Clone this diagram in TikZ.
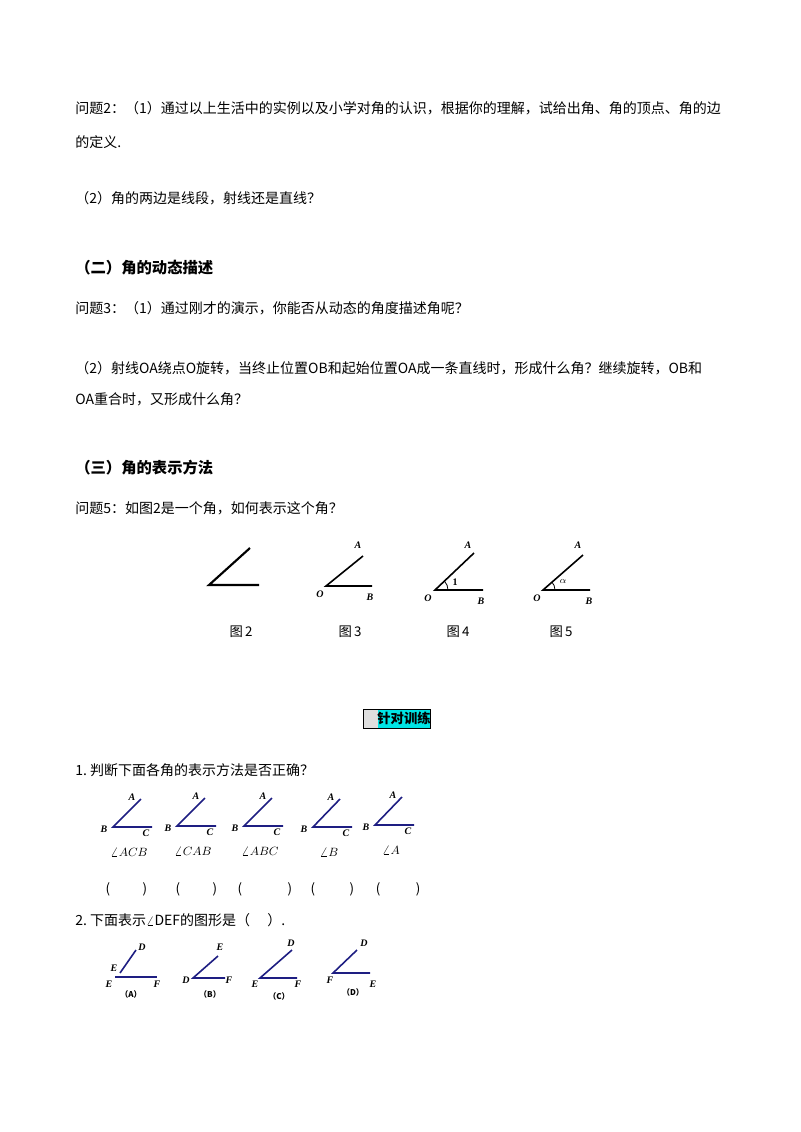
\documentclass[tikz,border=0pt]{standalone}
\usepackage{fontspec}
\setmainfont{Liberation Serif}
\newfontfamily\cjk{Noto Sans CJK SC}
\definecolor{navy}{RGB}{30,30,130}
\definecolor{cyanbox}{RGB}{0,230,230}
\begin{document}
\begin{tikzpicture}[x=0.75pt,y=-0.75pt,
  txt/.style={anchor=west,inner sep=0,font=\cjk\fontsize{10.5}{12}\selectfont},
  hd/.style={anchor=west,inner sep=0,font=\cjk\bfseries\fontsize{11.5}{13}\selectfont},
  lab/.style={inner sep=0,font=\bfseries\itshape\fontsize{7.5}{9}\selectfont},
  blu/.style={line width=1.2pt,draw=navy},
  capt/.style={inner sep=0,font=\cjk\fontsize{10}{12}\selectfont},
  optl/.style={inner sep=0,font=\cjk\bfseries\fontsize{6}{7}\selectfont}]
\useasboundingbox (0,0) rectangle (800,1132);
\node[txt] (t1) at (75,108) {问题2：（1）通过以上生活中的实例以及小学对角的认识，根据你的理解，试给出角、角的顶点、角的边};
\node[txt] (t2) at (75,142) {的定义.};
\node[txt] (t3) at (75,198) {（2）角的两边是线段，射线还是直线？};
\node[hd] (h2) at (75,268) {（二）角的动态描述};
\node[txt] (t4) at (75,308) {问题3：（1）通过刚才的演示，你能否从动态的角度描述角呢？};
\node[txt] (t5) at (75,368) {（2）射线\textit{OA}绕点\textit{O}旋转，当终止位置\textit{OB}和起始位置\textit{OA}成一条直线时，形成什么角？继续旋转，\textit{OB}和};
\node[txt] (t6) at (75,399) {\textit{OA}重合时，又形成什么角？};
\node[hd] (h3) at (75,468) {（三）角的表示方法};
\node[txt] (t7) at (75,508) {问题5：如图2是一个角，如何表示这个角？};
% fig 2
\coordinate (v2) at (209,585);
\draw[line width=1.6pt] (250,548) -- (v2) -- (259,585);
% fig 3
\coordinate (v3) at (326,586);
\draw[line width=1.2pt] (363,556) -- (v3) -- (372,586);
\node[lab] at (358,545) {A}; \node[lab] at (320,594) {O}; \node[lab] at (370,597) {B};
% fig 4
\coordinate (v4) at (435,590);
\draw[line width=1.2pt] (474,553) -- (v4) -- (483,590);
\draw[line width=0.6pt] ([shift={(0:13)}]v4) arc[start angle=0,end angle=43,radius=9.75pt];
\node[lab] at (468,545) {A}; \node[lab] at (428,598) {O}; \node[lab] at (481,601) {B};
\node[inner sep=0,font=\bfseries\fontsize{7.5}{9}\selectfont] at (455,582) {1};
% fig 5
\coordinate (v5) at (543,590);
\draw[line width=1.2pt] (583,555) -- (v5) -- (590,590);
\draw[line width=0.6pt] ([shift={(0:12)}]v5) arc[start angle=0,end angle=43,radius=9pt];
\node[lab] at (578,545) {A}; \node[lab] at (537,598) {O}; \node[lab] at (589,601) {B};
\node[lab] at (563,581) {$\alpha$};
\node[capt] at (241,632) {图\,2};
\node[capt] at (350,632) {图\,3};
\node[capt] at (458,632) {图\,4};
\node[capt] at (561,632) {图\,5};
% box
\fill[gray!25] (363,709) rectangle (378,728);
\fill[cyanbox] (378,709) rectangle (430,728);
\draw[line width=0.6pt] (363,709) rectangle (430,728);
\node[inner sep=0,font=\cjk\bfseries\fontsize{10}{12}\selectfont] (bx) at (404,718.5) {针对训练};
\node[txt] (q1) at (75,770) {1.\ 判断下面各角的表示方法是否正确？};
% five angles
\foreach \x/\y/\ax/\lb in {113/827/141/{$\angle ACB$},177/826/205/{$\angle CAB$},244/826/272/{$\angle ABC$},313/827/340/{$\angle B$},375/825/402/{$\angle A$}}{
  \draw[blu] (\ax,\y-28) -- (\x,\y) -- (\x+39,\y);
  \node[lab] at (\x-9,\y+2) {B};
  \node[lab] at (\x+33,\y+6) {C};
  \node[lab] at (\ax-9,\y-30) {A};
  \node[inner sep=0,font=\bfseries\itshape\fontsize{9.5}{11}\selectfont] at (\x+16,\y+25) {\lb};
}
\foreach \a/\b in {108/145,178/215,240/290,313/352,378/418}{
  \node[capt] at (\a,889) {(}; \node[capt] at (\b,889) {)};
}
\node[txt] (q2) at (75,920) {2.\ 下面表示$\angle \textit{DEF}$的图形是（\quad\ ）.};
% options
\draw[blu] (115,977) -- (157,977); \draw[blu] (120,973) -- (136,950);
\node[lab] at (142,947) {D}; \node[lab] at (114,968) {E}; \node[lab] at (109,984) {E}; \node[lab] at (157,984) {F};
\node[optl] at (131,994) {（A）};
\draw[blu] (218,956) -- (193,978) -- (225,978);
\node[lab] at (220,947) {E}; \node[lab] at (186,980) {D}; \node[lab] at (229,980) {F};
\node[optl] at (210,994) {（B）};
\draw[blu] (292,950) -- (260,978) -- (297,978);
\node[lab] at (291,943) {D}; \node[lab] at (255,984) {E}; \node[lab] at (298,984) {F};
\node[optl] at (279,996) {（C）};
\draw[blu] (357,950) -- (333,973) -- (370,973);
\node[lab] at (364,943) {D}; \node[lab] at (330,980) {F}; \node[lab] at (373,984) {E};
\node[optl] at (353,992) {（D）};
\end{tikzpicture}
\end{document}
